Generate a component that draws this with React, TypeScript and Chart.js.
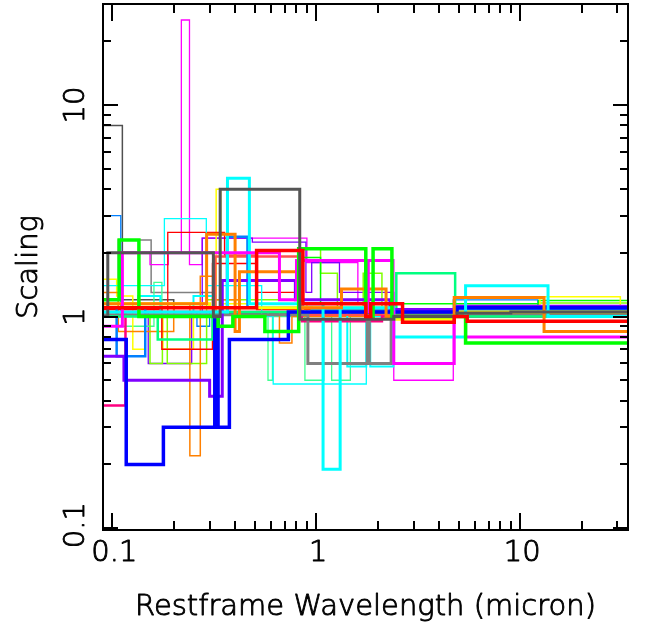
import React, { useEffect, useRef } from "react";
import { Chart, registerables } from "chart.js";

Chart.register(...registerables);

// ---- axis ranges & labels ----
const X_MIN = 0.09;
const X_MAX = 33.8;
const Y_MIN = 0.098;
const Y_MAX = 30;
const xTickValues = [0.1, 1, 10];
const xTickLabels = ["0.1", "1", "10"];
const yTickValues = [0.1, 1, 10];
const yTickLabels = ["0.1", "1", "10"];
const xTitle = "Restframe Wavelength (micron)";
const yTitle = "Scaling";

// ---- series data: bin edges (micron) and scaling value per bin ----
const redThickEdges = [0.09, 0.51, 0.86, 1.75, 1.85, 2.65, 4.75, 5.5, 33.8];
const redThickValues = [1.1, 2.05, 1.15, 1.0, 1.15, 0.94, 1.0, 0.95];

const darkGrayThickEdges = [0.09, 0.095, 0.313, 0.338, 0.83, 2.4, 4.9, 9, 33.8];
const darkGrayThickValues = [1.0, 2.0, 1.0, 4.0, 0.97, 1.0, 1.04, 1.05];

const limeThickEdges = [0.09, 0.108, 0.135, 0.33, 0.39, 0.56, 0.82, 1.75, 1.9, 2.35, 5.4, 33.8];
const limeThickValues = [1.2, 2.3, 1.0, 0.9, 1.0, 0.85, 2.09, 1.0, 2.09, 1.0, 0.75];

const magentaThickEdges = [0.09, 0.112, 0.66, 0.8, 1.75, 1.8, 2.38, 2.4, 4.75, 5.4, 33.8];
const magentaThickValues = [0.9, 2.0, 1.2, 1.84, 1.05, 1.84, 1.05, 0.6, 1.0, 0.8];

const orangeThickEdges = [0.09, 0.29, 0.4, 0.42, 0.82, 1.33, 2.2, 4.75, 13.1, 33.8];
const orangeThickValues = [1.15, 2.45, 0.85, 1.63, 1.1, 1.35, 1.0, 1.23, 0.85];

const cyanThickEdges = [0.09, 0.367, 0.47, 1.08, 1.31, 2.4, 5.4, 13.7, 33.8];
const cyanThickValues = [1.05, 4.5, 1.15, 0.19, 1.1, 0.8, 1.4, 1.0];

const blueThickEdges = [0.09, 0.117, 0.178, 0.318, 0.33, 0.375, 0.73, 4.9, 33.8];
const blueThickValues = [0.78, 0.2, 0.3, 1.0, 0.3, 0.78, 1.05, 1.1];

const purpleThickEdges = [0.09, 0.114, 0.3, 0.346, 0.79, 2.3, 4.9, 33.8];
const purpleThickValues = [0.65, 0.5, 0.42, 1.48, 1.2, 1.08, 1.12];

const yellowThickEdges = [0.09, 0.3, 2.4, 4.75, 33.8];
const yellowThickValues = [1.15, 1.1, 0.97, 1.05];

const springThickEdges = [0.09, 0.167, 0.31, 2.47, 4.8, 33.8];
const springThickValues = [1.0, 0.78, 1.05, 1.6, 1.0];

const grayThickEdges = [0.09, 0.91, 1.78, 1.82, 2.33, 33.8];
const grayThickValues = [1.02, 0.6, 1.0, 0.6, 1.02];

const dodgerThickEdges = [0.09, 0.105, 0.145, 0.365, 0.46, 0.95, 4.7, 33.8];
const dodgerThickValues = [1.1, 0.65, 1.1, 2.38, 1.1, 1.07, 1.08];

const deepPinkEdges = [0.09, 0.116, 0.85, 2.1, 33.8];
const deepPinkValues = [0.38, 1.05, 0.95, 1.0];

const salmonEdges = [0.09, 0.32, 0.86, 33.8];
const salmonValues = [1.05, 1.92, 1.02];

const cyanMedEdges = [0.09, 0.134, 0.172, 0.25, 0.32, 1.42, 1.76, 1.84, 2.39, 33.8];
const cyanMedValues = [1.05, 1.25, 1.05, 1.25, 1.05, 0.58, 1.05, 0.58, 1.0];

const cyanThinEdges = [0.09, 0.18, 0.289, 0.54, 0.615, 1.76, 33.8];
const cyanThinValues = [1.4, 2.9, 1.4, 1.0, 0.48, 1.0];

const redThinAEdges = [0.09, 0.175, 0.31, 0.51, 33.8];
const redThinAValues = [1.08, 0.7, 1.78, 1.08];

const redThinBEdges = [0.09, 0.187, 0.355, 0.51, 0.86, 33.8];
const redThinBValues = [1.02, 2.5, 1.95, 1.3, 1.02];

const orangeThinEdges = [0.09, 0.107, 0.2, 0.24, 0.27, 0.32, 0.42, 0.66, 0.76, 33.8];
const orangeThinValues = [1.3, 0.85, 1.15, 0.22, 1.55, 1.2, 1.05, 0.75, 1.0];

const yellowThinEdges = [0.09, 0.105, 0.126, 0.145, 0.177, 0.25, 0.323, 0.34, 0.9, 2.4, 12.5, 31, 33.8];
const yellowThinValues = [1.5, 1.25, 0.7, 1.05, 0.7, 1.05, 4.0, 1.15, 1.05, 1.0, 1.24, 1.0];

const limeThinEdges = [0.09, 0.2, 0.85, 1.05, 12.3, 33.8];
const limeThinValues = [1.15, 1.05, 1.9, 1.15, 1.19];

const chartreuseEdges = [0.09, 0.153, 0.176, 0.186, 0.29, 0.85, 1.05, 1.27, 1.7, 2.1, 12.3, 33.8];
const chartreuseValues = [1.0, 0.6, 1.0, 0.6, 1.2, 2.1, 1.6, 1.05, 1.6, 1.05, 1.16];

const springThinEdges = [0.09, 0.16, 0.175, 0.58, 0.61, 0.88, 1.09, 1.19, 1.47, 33.8];
const springThinValues = [0.9, 1.45, 1.05, 0.5, 1.0, 0.5, 1.0, 0.5, 1.05];

const dodgerThinEdges = [0.09, 0.11, 0.26, 0.3, 4.7, 12.2, 33.8];
const dodgerThinValues = [3.0, 1.05, 0.9, 1.05, 1.2, 1.0];

const purpleThinEdges = [0.09, 0.15, 0.245, 0.276, 0.486, 0.89, 0.95, 1.3, 2.4, 33.8];
const purpleThinValues = [1.05, 0.6, 1.05, 2.35, 2.25, 1.3, 1.8, 1.3, 1.05];

const magentaThinEdges = [0.09, 0.153, 0.188, 0.218, 0.239, 0.276, 0.9, 1.6, 2.4, 4.7, 33.8];
const magentaThinValues = [2.0, 1.76, 2.0, 25.2, 1.76, 2.35, 1.8, 1.15, 0.5, 1.0];

const grayThinEdges = [0.09, 0.107, 0.155, 0.32, 33.8];
const grayThinValues = [1.05, 2.3, 1.3, 1.05];

const darkGrayThinEdges = [0.09, 0.112, 0.2, 0.32, 33.8];
const darkGrayThinValues = [8.0, 1.2, 1.0, 1.03];

// ---- styling table (first entry is drawn on top) ----
const seriesList = [
  { e: redThickEdges, v: redThickValues, c: "#ff0000", w: 3.5 },
  { e: darkGrayThickEdges, v: darkGrayThickValues, c: "#555555", w: 3 },
  { e: limeThickEdges, v: limeThickValues, c: "#00ff00", w: 3.5 },
  { e: magentaThickEdges, v: magentaThickValues, c: "#ff00ff", w: 3 },
  { e: orangeThickEdges, v: orangeThickValues, c: "#ff8000", w: 3 },
  { e: cyanThickEdges, v: cyanThickValues, c: "#00ffff", w: 3 },
  { e: blueThickEdges, v: blueThickValues, c: "#0000ff", w: 3.5 },
  { e: purpleThickEdges, v: purpleThickValues, c: "#8000ff", w: 3 },
  { e: yellowThickEdges, v: yellowThickValues, c: "#ffff00", w: 3 },
  { e: springThickEdges, v: springThickValues, c: "#00ff80", w: 2.5 },
  { e: grayThickEdges, v: grayThickValues, c: "#808080", w: 3 },
  { e: dodgerThickEdges, v: dodgerThickValues, c: "#0080ff", w: 2.5 },
  { e: deepPinkEdges, v: deepPinkValues, c: "#ff0080", w: 2.5 },
  { e: salmonEdges, v: salmonValues, c: "#ff5050", w: 2.5 },
  { e: cyanMedEdges, v: cyanMedValues, c: "#00ffff", w: 2 },
  { e: cyanThinEdges, v: cyanThinValues, c: "#00ffff", w: 1.3 },
  { e: redThinAEdges, v: redThinAValues, c: "#ff0000", w: 1.5 },
  { e: redThinBEdges, v: redThinBValues, c: "#ff0000", w: 1.3 },
  { e: orangeThinEdges, v: orangeThinValues, c: "#ff8000", w: 1.5 },
  { e: yellowThinEdges, v: yellowThinValues, c: "#ffff00", w: 1.5 },
  { e: limeThinEdges, v: limeThinValues, c: "#00ff00", w: 1.5 },
  { e: chartreuseEdges, v: chartreuseValues, c: "#80ff00", w: 1.5 },
  { e: springThinEdges, v: springThinValues, c: "#40ff90", w: 1.3 },
  { e: dodgerThinEdges, v: dodgerThinValues, c: "#0080ff", w: 1.3 },
  { e: purpleThinEdges, v: purpleThinValues, c: "#8000ff", w: 1.3 },
  { e: magentaThinEdges, v: magentaThinValues, c: "#ff00ff", w: 1.3 },
  { e: grayThinEdges, v: grayThinValues, c: "#808080", w: 1.5 },
  { e: darkGrayThinEdges, v: darkGrayThinValues, c: "#505050", w: 1.5 },
];

function toPoints(edges: number[], values: number[]) {
  const pts = values.map((y, i) => ({ x: edges[i], y }));
  pts.push({ x: edges[edges.length - 1], y: values[values.length - 1] });
  return pts;
}

const FONT = '"DejaVu Sans", sans-serif';

function drawText(ctx: CanvasRenderingContext2D, text: string, x: number, y: number) {
  ctx.fillText(text, x, y);
  ctx.strokeText(text, x, y);
}

const framePlugin = {
  id: "frame",
  afterDraw(chart: any) {
    const { ctx, chartArea } = chart;
    const xs = chart.scales.x;
    const ys = chart.scales.y;
    const { left, right, top, bottom } = chartArea;
    ctx.save();
    ctx.strokeStyle = "#000";
    ctx.lineWidth = 2;
    ctx.lineCap = "butt";
    ctx.strokeRect(left, top, right - left, bottom - top);

    const xMajor = 17, xMinor = 9, yMajor = 15, yMinor = 8;
    ctx.beginPath();
    for (let dec = -2; dec <= 2; dec++) {
      for (let m = 1; m <= 9; m++) {
        const v = m * Math.pow(10, dec);
        if (v >= X_MIN && v <= X_MAX) {
          const px = Math.round(xs.getPixelForValue(v));
          const len = m === 1 ? xMajor : xMinor;
          ctx.moveTo(px, bottom);
          ctx.lineTo(px, bottom - len);
          ctx.moveTo(px, top);
          ctx.lineTo(px, top + len);
        }
        if (v >= Y_MIN && v <= Y_MAX) {
          const py = Math.round(ys.getPixelForValue(v));
          const len = m === 1 ? yMajor : yMinor;
          ctx.moveTo(left, py);
          ctx.lineTo(left + len, py);
          ctx.moveTo(right, py);
          ctx.lineTo(right - len, py);
        }
      }
    }
    ctx.stroke();

    ctx.fillStyle = "#000";
    ctx.strokeStyle = "#000";
    ctx.lineWidth = 0.9;
    ctx.lineJoin = "round";
    ctx.font = `200 29px ${FONT}`;
    ctx.textAlign = "center";
    ctx.textBaseline = "middle";
    xTickValues.forEach((v, i) => {
      drawText(ctx, xTickLabels[i], xs.getPixelForValue(v) + 2, 553);
    });
    yTickValues.forEach((v, i) => {
      const py = ys.getPixelForValue(v);
      ctx.save();
      ctx.translate(76, v === 0.1 ? py - 3 : py);
      ctx.rotate(-Math.PI / 2);
      drawText(ctx, yTickLabels[i], 0, 0);
      ctx.restore();
    });
    drawText(ctx, xTitle, (left + right) / 2, 607);
    ctx.save();
    ctx.translate(29, 267);
    ctx.rotate(-Math.PI / 2);
    drawText(ctx, yTitle, 0, 0);
    ctx.restore();
    ctx.restore();
  },
};

export default function App() {
  const ref = useRef<HTMLCanvasElement | null>(null);
  useEffect(() => {
    if (!ref.current) return;
    const datasets = seriesList.map((s) => ({
      data: toPoints(s.e, s.v),
      borderColor: s.c,
      backgroundColor: s.c,
      borderWidth: s.w,
      pointRadius: 0,
      stepped: true as const,
      fill: false,
      tension: 0,
      borderJoinStyle: "miter" as const,
      borderCapStyle: "butt" as const,
    }));
    const chart = new Chart(ref.current, {
      type: "line",
      data: { datasets },
      options: {
        animation: false,
        responsive: false,
        maintainAspectRatio: false,
        devicePixelRatio: 1,
        layout: { padding: { left: 103, right: 20, top: 4, bottom: 107 } },
        plugins: { legend: { display: false }, tooltip: { enabled: false } },
        events: [],
        scales: {
          x: { type: "logarithmic", min: X_MIN, max: X_MAX, display: false },
          y: { type: "logarithmic", min: Y_MIN, max: Y_MAX, display: false },
        },
      },
      plugins: [framePlugin],
    });
    return () => chart.destroy();
  }, []);
  return (
    <div style={{ position: "absolute", left: 0, top: 0, width: 648, height: 637, background: "#fff" }}>
      <canvas ref={ref} width={648} height={637} style={{ display: "block" }} />
    </div>
  );
}
